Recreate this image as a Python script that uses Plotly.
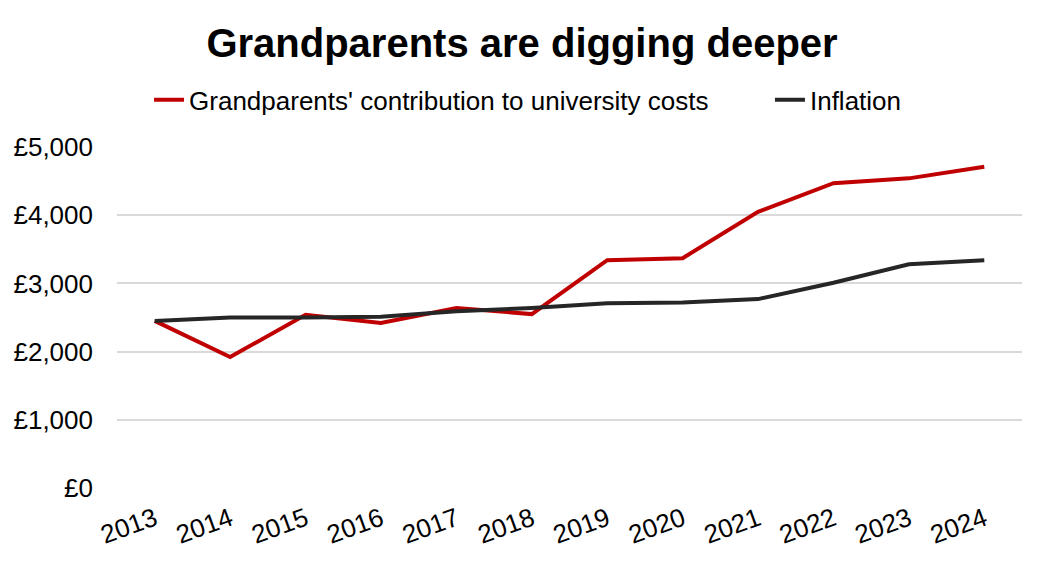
import plotly.graph_objects as go

years = ["2013", "2014", "2015", "2016", "2017", "2018",
         "2019", "2020", "2021", "2022", "2023", "2024"]
grandparents = [2450, 1920, 2540, 2420, 2640, 2550,
                3340, 3370, 4050, 4470, 4540, 4710]
inflation = [2450, 2500, 2500, 2510, 2590, 2640,
             2710, 2720, 2770, 3010, 3280, 3340]

# page has an 8px body margin, so the figure is drawn 8px smaller
W, H = 1038, 558

fig = go.Figure()
fig.add_trace(go.Scatter(
    x=years, y=grandparents, mode="lines",
    name="Grandparents' contribution to university costs",
    line=dict(color="#C00000", width=4), legend="legend", showlegend=True,
))
fig.add_trace(go.Scatter(
    x=years, y=inflation, mode="lines", name="Inflation",
    line=dict(color="#262626", width=4), legend="legend2", showlegend=True,
))

legend_style = dict(orientation="h", xanchor="left", xref="paper",
                    y=1.138, yanchor="middle", font=dict(size=26),
                    visible=True)

fig.update_layout(
    width=W, height=H, showlegend=True,
    paper_bgcolor="white", plot_bgcolor="white",
    font=dict(family="Liberation Sans, Arial", color="black", size=26),
    margin=dict(l=109, r=24, t=139, b=78, autoexpand=False),
    title=dict(
        text="<b>Grandparents are digging deeper</b>",
        font=dict(size=40, color="black"),
        x=514 / W, xanchor="center", xref="container",
        y=1 - 35 / H, yanchor="middle", yref="container",
    ),
    legend=dict(x=0.0354, **legend_style),
    legend2=dict(x=0.7215, **legend_style),
    xaxis=dict(
        type="category", range=[-0.5, 11.5], tickangle=-20,
        showgrid=False, showline=False, ticks="", automargin=False,
        ticklabelstandoff=10,
        tickfont=dict(size=26),
    ),
    yaxis=dict(
        range=[0, 5000], dtick=1000, tickprefix="£", tickformat=",",
        showgrid=True, gridcolor="#D9D9D9", gridwidth=1.5,
        zeroline=False, showline=False, ticks="", automargin=False,
        ticklabelstandoff=23,
        tickfont=dict(size=26),
    ),
)

fig.write_html("out.html")
